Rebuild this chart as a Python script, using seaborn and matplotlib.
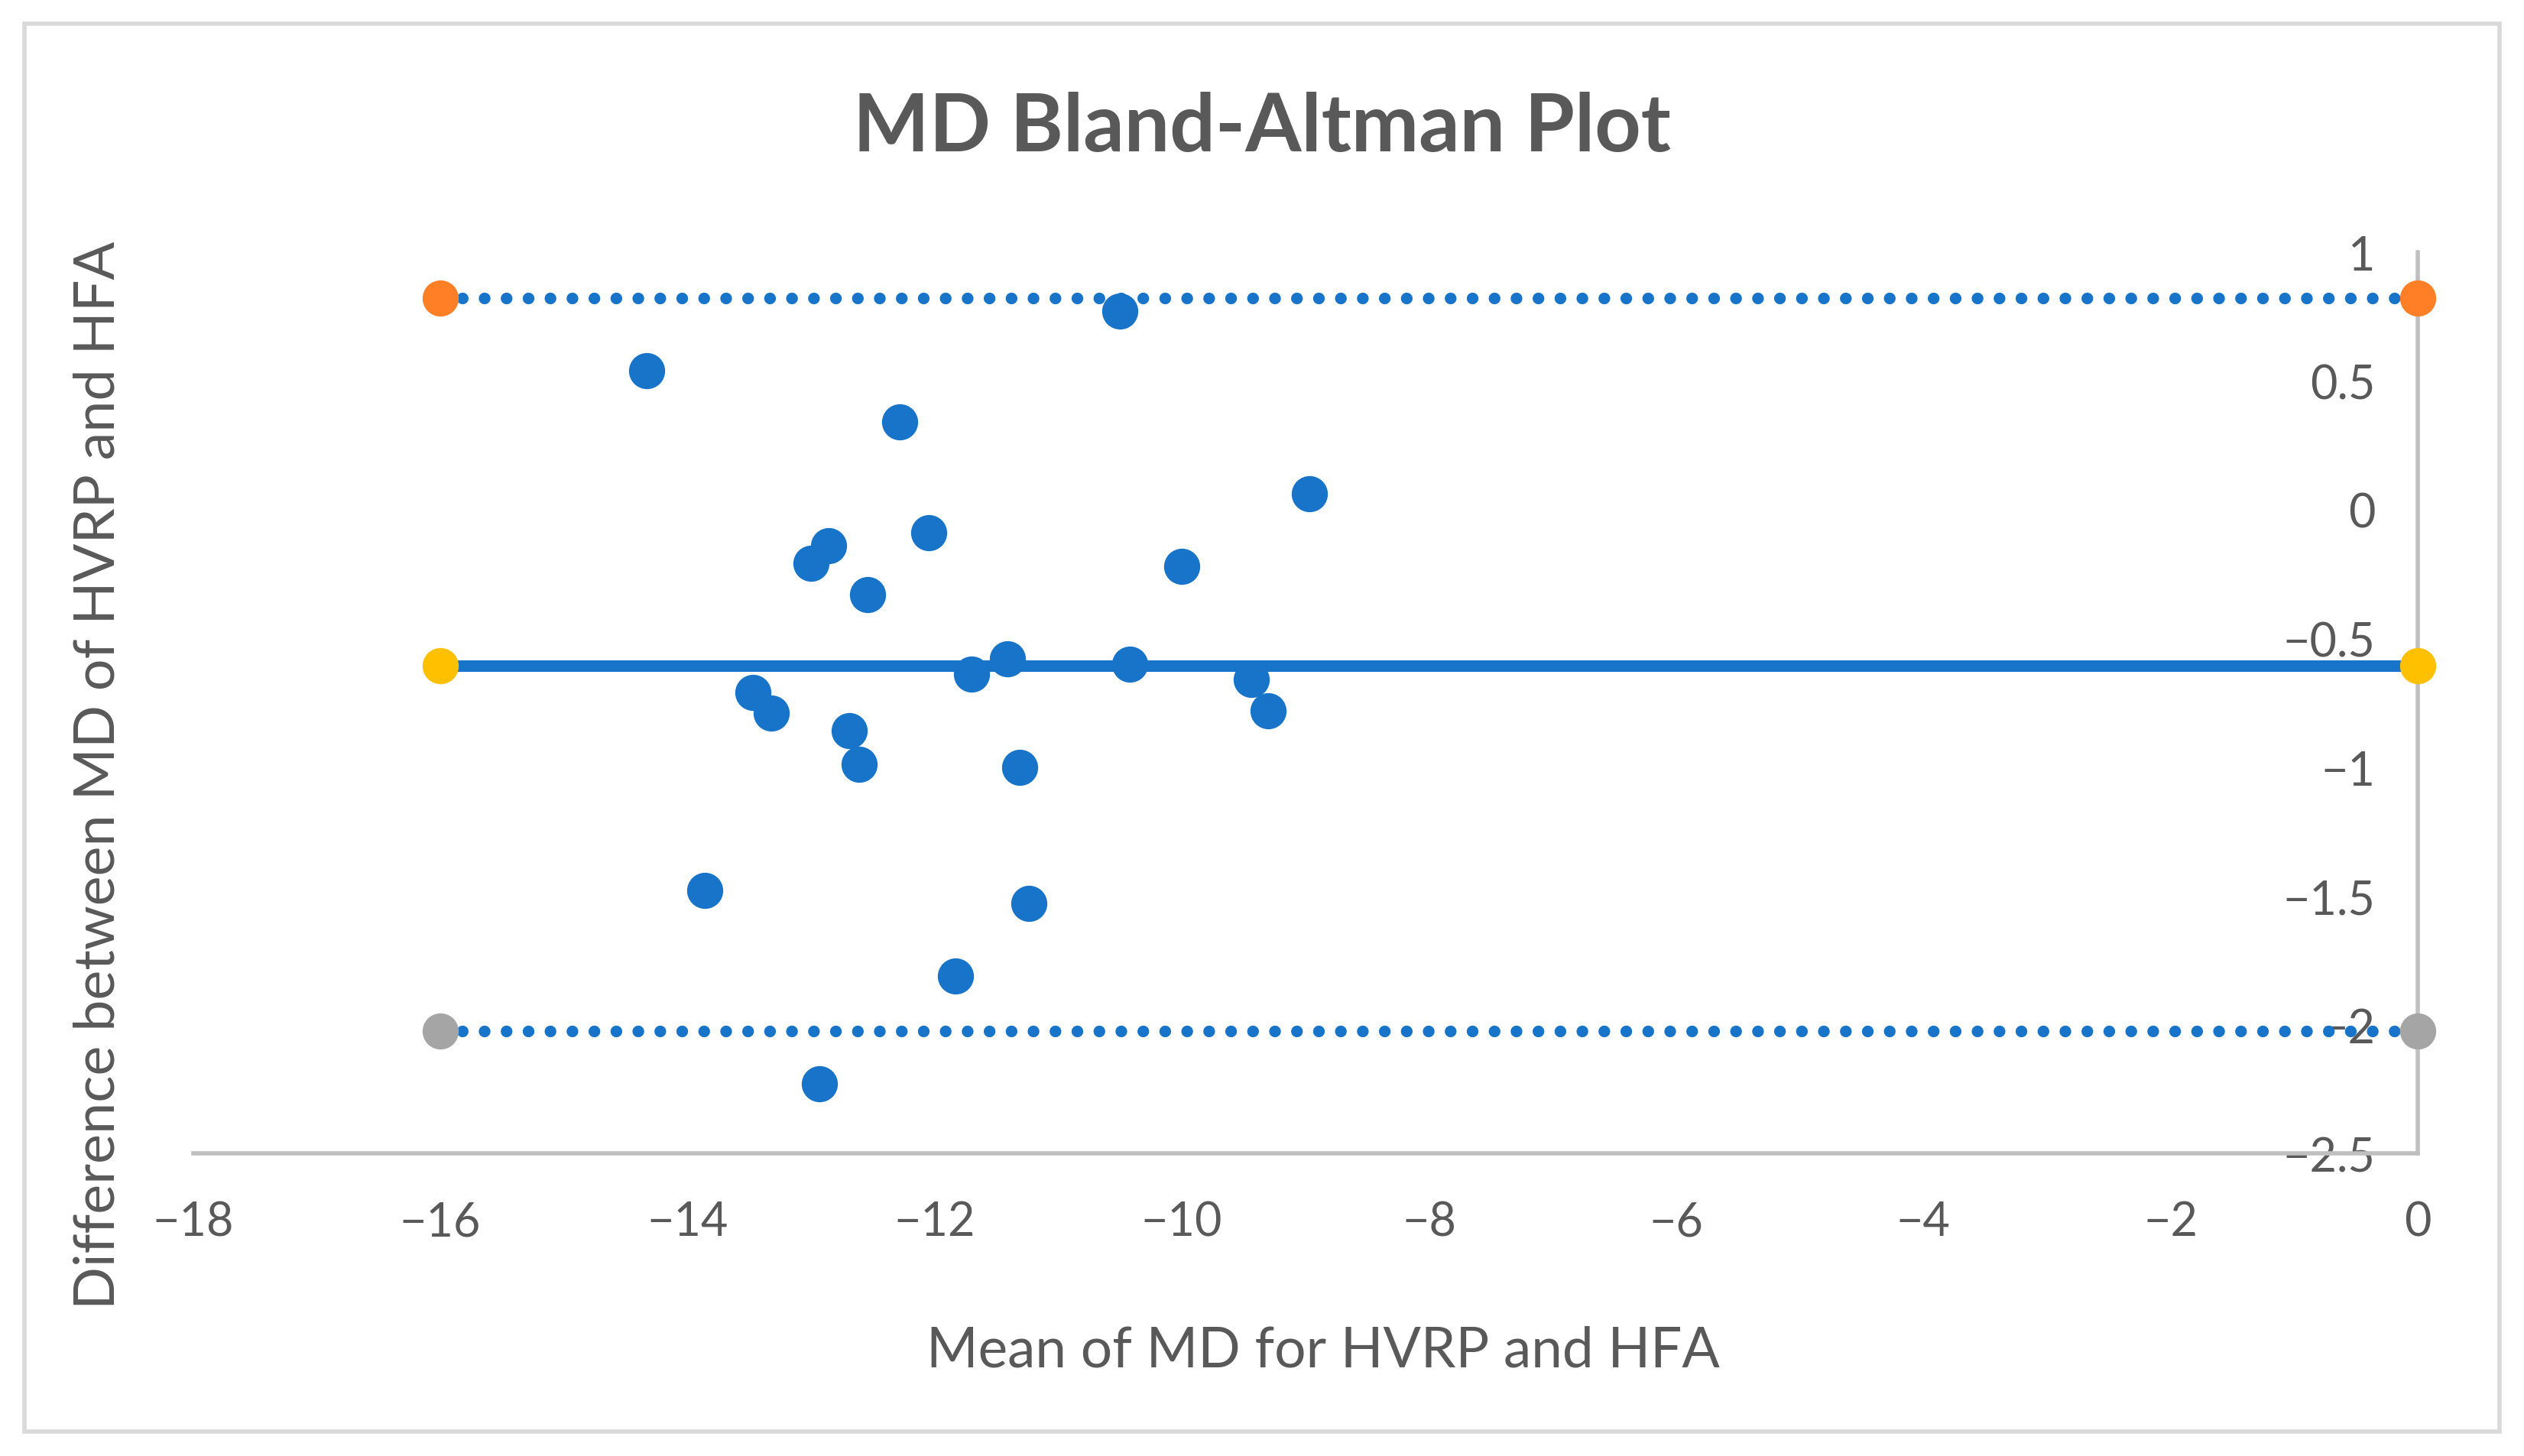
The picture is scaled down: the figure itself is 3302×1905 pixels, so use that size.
import numpy as np
import pandas as pd
import matplotlib.pyplot as plt
import seaborn as sns
from matplotlib.patches import Rectangle

sns.set_style('white')
plt.rcParams['font.family'] = ['Lato', 'DejaVu Sans']

# mean of the two MD measurements (x) and their difference (y)
mean_md = [-10.50, -14.33, -12.28, -8.97, -12.05, -12.86, -13.00, -10.00,
           -12.54, -11.41, -10.42, -11.70, -9.44, -13.47, -13.32, -9.30,
           -12.69, -12.61, -11.31, -13.86, -11.24, -11.83, -12.93]
diff_md = [0.77, 0.54, 0.34, 0.06, -0.09, -0.14, -0.21, -0.22,
           -0.33, -0.58, -0.60, -0.64, -0.66, -0.71, -0.79, -0.78,
           -0.86, -0.99, -1.00, -1.48, -1.53, -1.81, -2.23]

# bias and limits of agreement
line_x = [-16, 0]
upper_loa = [0.82, 0.82]
bias_line = [-0.606, -0.606]
lower_loa = [-2.025, -2.025]

x_ticks = [-18, -16, -14, -12, -10, -8, -6, -4, -2, 0]
y_ticks = [-2.5, -2, -1.5, -1, -0.5, 0, 0.5, 1]

blue = '#1874C8'
text_col = '#595959'
axis_col = '#BFBFBF'

fig = plt.figure(figsize=(16.51, 9.53), dpi=200)
ax = fig.add_axes([0.0765, 0.2077, 0.8814, 0.6188])

# limit lines
sns.lineplot(x=line_x, y=upper_loa, ax=ax, color=blue, lw=5.5,
             linestyle=(0, (0.01, 1.87)), dash_capstyle='round', zorder=2)
sns.lineplot(x=line_x, y=lower_loa, ax=ax, color=blue, lw=5.5,
             linestyle=(0, (0.01, 1.87)), dash_capstyle='round', zorder=2)
sns.lineplot(x=line_x, y=bias_line, ax=ax, color=blue, lw=5.4, zorder=2)

# end markers
for yy, c in [(upper_loa, '#FF7F27'), (bias_line, '#FFC000'), (lower_loa, '#A5A5A5')]:
    sns.scatterplot(x=line_x, y=yy, ax=ax, s=290, color=c, linewidth=0,
                    clip_on=False, zorder=4)

# data points
sns.scatterplot(x=mean_md, y=diff_md, ax=ax, s=290, color=blue, linewidth=0, zorder=3)

ax.set_xlim(-18, 0)
ax.set_ylim(-2.5, 1)
ax.set_xticks(x_ticks)
ax.set_yticks(y_ticks)
ax.set_xticklabels([str(t).replace('-', '\u2212') for t in x_ticks])
ax.set_yticklabels([('%g' % t).replace('-', '\u2212') for t in y_ticks])

ax.yaxis.tick_right()
ax.tick_params(axis='both', length=0, labelsize=22, labelcolor=text_col)
ax.tick_params(axis='x', pad=22)
ax.tick_params(axis='y', pad=-20)
for lab in ax.get_yticklabels():
    lab.set_horizontalalignment('right')

for side in ['top', 'left']:
    ax.spines[side].set_visible(False)
for side in ['bottom', 'right']:
    ax.spines[side].set_color(axis_col)
    ax.spines[side].set_linewidth(2)
ax.grid(False)

ax.set_xlabel('Mean of MD for HVRP and HFA', fontsize=26.3, color=text_col)
ax.xaxis.set_label_coords(0.508, -0.19)
ax.set_ylabel('Difference between MD of HVRP and HFA', fontsize=26.5, color=text_col)
ax.yaxis.set_label_position('left')
ax.yaxis.set_label_coords(-0.031, 0.42)

fig.text(0.5, 0.912, 'MD Bland-Altman Plot', ha='center', va='center',
         fontsize=38, fontweight='bold', color=text_col)

fig.add_artist(Rectangle((0.0096, 0.0166), 0.9808, 0.9668, transform=fig.transFigure,
                         fill=False, edgecolor='#D9D9D9', lw=2))

fig.savefig('out.png', dpi=200)
